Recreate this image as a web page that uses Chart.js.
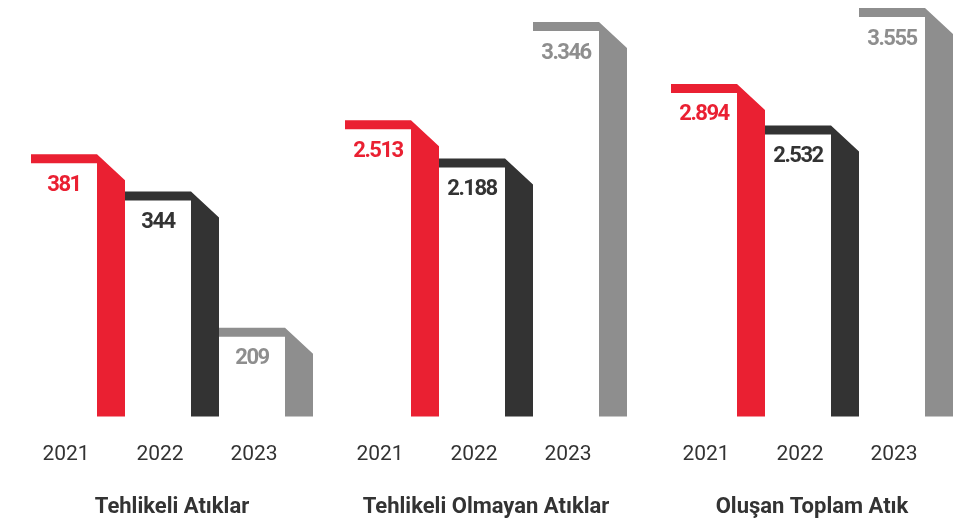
<!DOCTYPE html>
<html>
<head>
<meta charset="utf-8">
<script src="https://cdn.jsdelivr.net/npm/chart.js@4.4.1/dist/chart.umd.min.js"></script>
<style>
  html, body { margin: 0; background: #fff; }
  #wrap { position: relative; width: 969px; height: 523px; overflow: hidden; }
  .panel { position: absolute; top: 0; width: 282px; height: 523px; }
</style>
</head>
<body>
<div id="wrap">
  <div class="panel" style="left:31px"><canvas id="c0"></canvas></div>
  <div class="panel" style="left:345px"><canvas id="c1"></canvas></div>
  <div class="panel" style="left:671px"><canvas id="c2"></canvas></div>
</div>
<script>
const years = ['2021', '2022', '2023'];
const groupTitles = ['Tehlikeli Atıklar', 'Tehlikeli Olmayan Atıklar', 'Oluşan Toplam Atık'];
const hazardous = [381, 344, 209];
const nonHazardous = [2513, 2188, 3346];
const totalWaste = [2894, 2532, 3555];

const yearColors = ['#EA2032', '#333333', '#8E8E8E'];
const textColor = '#333333';
const FONT = 'Roboto, "Open Sans", sans-serif';

// ribbon geometry (px)
const STRIP = 28;   // width of the vertical part
const CAP = 9;      // thickness of the top band
const FOLD = 26;    // drop of the diagonal corner

function fmt(v) {
  return String(v).replace(/\B(?=(\d{3})+(?!\d))/g, '.');
}

// draws each bar as a folded ribbon plus its value
const ribbon = {
  id: 'ribbon',
  afterDatasetsDraw(chart) {
    const ctx = chart.ctx;
    const values = chart.data.datasets[0].data;
    chart.getDatasetMeta(0).data.forEach((bar, i) => {
      const { x, y, base, width } = bar.getProps(['x', 'y', 'base', 'width'], true);
      const left = x - width / 2;
      const right = x + width / 2;
      const inner = right - STRIP;
      ctx.save();
      ctx.fillStyle = yearColors[i];
      ctx.beginPath();
      ctx.moveTo(left, y);
      ctx.lineTo(inner, y);
      ctx.lineTo(right, y + FOLD);
      ctx.lineTo(right, base);
      ctx.lineTo(inner, base);
      ctx.lineTo(inner, y + CAP);
      ctx.lineTo(left, y + CAP);
      ctx.closePath();
      ctx.fill();

      ctx.font = 'bold 22px ' + FONT;
      ctx.letterSpacing = '-1.5px';
      ctx.textAlign = 'center';
      ctx.textBaseline = 'middle';
      ctx.fillText(fmt(values[i]), (left + inner) / 2, y + 31);
      ctx.restore();
    });
  }
};

function makePanel(id, title, values, yMin, yMax) {
  return new Chart(document.getElementById(id), {
    type: 'bar',
    data: {
      labels: years,
      datasets: [{ data: values, base: yMin, backgroundColor: 'rgba(0,0,0,0)', borderWidth: 0 }]
    },
    options: {
      responsive: true,
      maintainAspectRatio: false,
      animation: false,
      layout: { padding: 0 },
      datasets: { bar: { barPercentage: 1, categoryPercentage: 1 } },
      plugins: { legend: { display: false }, tooltip: { enabled: false } },
      scales: {
        x: {
          grid: { display: false, drawTicks: false },
          border: { display: false },
          ticks: {
            color: textColor,
            font: { family: FONT, size: 21 },
            padding: 26,
            labelOffset: -12
          },
          title: {
            display: true,
            text: title,
            color: textColor,
            font: { family: FONT, size: 22, weight: 'bold' },
            padding: { top: 1, bottom: 2 }
          },
          // the big tick padding would otherwise shrink the plot sideways
          afterFit(scale) {
            scale.paddingLeft = 0;
            scale.paddingRight = 0;
          }
        },
        y: { display: false, min: yMin, max: yMax }
      }
    },
    plugins: [ribbon]
  });
}

makePanel('c0', groupTitles[0], hazardous, 121, 534);
makePanel('c1', groupTitles[1], nonHazardous, 0, 3533);
makePanel('c2', groupTitles[2], totalWaste, 0, 3625);
</script>
</body>
</html>
